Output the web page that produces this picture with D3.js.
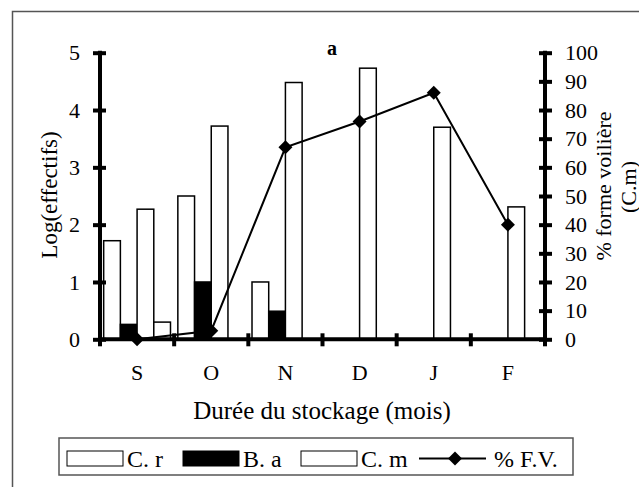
<!DOCTYPE html>
<html>
<head>
<meta charset="utf-8">
<script src="https://cdn.jsdelivr.net/npm/d3@7"></script>
<style>
  body { margin: 0; background: #fff; }
  svg { font-family: "Liberation Serif", "Times New Roman", serif; }
</style>
</head>
<body>
<svg id="chart" width="639" height="487"></svg>
<script>
// data
var months = ["S", "O", "N", "D", "J", "F"];
var cr = [1.72, 2.50, 1.00, 0, 0, 0];        // C. r
var ba = [0.26, 1.00, 0.49, 0, 0, 0];        // B. a
var cm = [2.27, 3.72, 4.48, 4.73, 3.70, 2.31]; // C. m
var extra = [0.30, 0, 0, 0, 0, 0];           // 4th bar (no legend entry)
var fv = [0, 3, 67, 76, 86, 40];             // % F.V.
var leftTicks = [0, 1, 2, 3, 4, 5];
var rightTicks = [0, 10, 20, 30, 40, 50, 60, 70, 80, 90, 100];

var svg = d3.select("#chart");

// frame
svg.append("rect")
    .attr("x", 12.5).attr("y", 11.5)
    .attr("width", 700).attr("height", 600)
    .attr("fill", "none").attr("stroke", "#555").attr("stroke-width", 1.5);

var plotL = 100, plotR = 545, plotT = 52.7, plotB = 339.3;

var x = d3.scaleBand().domain(months).range([plotL, plotR]);
var slots = ["cr", "ba", "cm", "extra"];
var xs = d3.scaleBand().domain(slots).range([0, x.bandwidth()]).paddingOuter(0.22);
var y = d3.scaleLinear().domain([0, 5]).range([plotB, plotT]);
var y2 = d3.scaleLinear().domain([0, 100]).range([plotB, plotT]);

var series = [
  {key: "cr", values: cr, fill: "#fff"},
  {key: "ba", values: ba, fill: "#000"},
  {key: "cm", values: cm, fill: "#fff"},
  {key: "extra", values: extra, fill: "#fff"}
];

var g = svg.append("g");
series.forEach(function(s) {
  g.selectAll(".bar-" + s.key)
    .data(s.values.map(function(v, i) { return {m: months[i], v: v}; }).filter(function(d) { return d.v > 0; }))
    .enter().append("rect")
      .attr("class", "bar-" + s.key)
      .attr("x", function(d) { return x(d.m) + xs(s.key); })
      .attr("y", function(d) { return y(d.v); })
      .attr("width", xs.bandwidth())
      .attr("height", function(d) { return y(0) - y(d.v); })
      .attr("fill", s.fill)
      .attr("stroke", "#000")
      .attr("stroke-width", 1.5);
});

// axes
function styleAxis(sel, x1, x2) {
  sel.select(".domain").remove();
  sel.selectAll(".tick line").attr("x1", x1).attr("x2", x2)
    .attr("stroke", "#000").attr("stroke-width", 4);
  sel.selectAll(".tick text").attr("font-size", 22).attr("fill", "#000")
    .attr("font-family", "Liberation Serif, serif");
}

var yAxis = svg.append("g")
    .attr("transform", "translate(" + plotL + ",0)")
    .call(d3.axisLeft(y).tickValues(leftTicks).tickFormat(d3.format("d")).tickPadding(14));
styleAxis(yAxis, -7, 6);
svg.append("line").attr("x1", plotL).attr("x2", plotL).attr("y1", plotT - 2).attr("y2", plotB)
    .attr("stroke", "#000").attr("stroke-width", 4);

var yAxis2 = svg.append("g")
    .attr("transform", "translate(" + plotR + ",0)")
    .call(d3.axisRight(y2).tickValues(rightTicks).tickFormat(d3.format("d")).tickPadding(14));
styleAxis(yAxis2, -6, 7);
svg.append("line").attr("x1", plotR).attr("x2", plotR).attr("y1", plotT - 2).attr("y2", plotB)
    .attr("stroke", "#000").attr("stroke-width", 4);

// x axis: ticks at band boundaries, labels at centres
svg.append("line").attr("x1", plotL - 2).attr("x2", plotR + 2).attr("y1", plotB).attr("y2", plotB)
    .attr("stroke", "#000").attr("stroke-width", 4);
var edges = months.map(function(m) { return x(m); }).concat([plotR]);
svg.selectAll(".xtick").data(edges).enter().append("line")
    .attr("x1", function(d) { return d; }).attr("x2", function(d) { return d; })
    .attr("y1", plotB - 6).attr("y2", plotB + 7)
    .attr("stroke", "#000").attr("stroke-width", 4);
svg.selectAll(".xlab").data(months).enter().append("text")
    .attr("x", function(d) { return x(d) + x.bandwidth() / 2; })
    .attr("y", 372).attr("dy", "0.35em")
    .attr("text-anchor", "middle").attr("font-size", 22)
    .text(function(d) { return d; });

// line % F.V.
var line = d3.line()
    .x(function(d, i) { return x(months[i]) + x.bandwidth() / 2; })
    .y(function(d) { return y2(d); });
svg.append("path").datum(fv).attr("d", line)
    .attr("fill", "none").attr("stroke", "#000").attr("stroke-width", 2);
svg.selectAll(".mk").data(fv).enter().append("path")
    .attr("transform", function(d, i) { return "translate(" + (x(months[i]) + x.bandwidth() / 2) + "," + y2(d) + ")"; })
    .attr("d", "M0,-7L7,0L0,7L-7,0Z").attr("fill", "#000");

// titles
svg.append("text").attr("x", 332).attr("y", 48).attr("dy", "0.35em")
    .attr("text-anchor", "middle").attr("font-size", 20).attr("font-weight", "bold").text("a");
svg.append("text").attr("transform", "translate(49,195) rotate(-90)").attr("dy", "0.35em")
    .attr("text-anchor", "middle").attr("font-size", 23).text("Log(effectifs)");
svg.append("text").attr("transform", "translate(603,186) rotate(-90)").attr("dy", "0.35em")
    .attr("text-anchor", "middle").attr("font-size", 22).text("% forme voilière");
svg.append("text").attr("transform", "translate(628,187) rotate(-90)").attr("dy", "0.35em")
    .attr("text-anchor", "middle").attr("font-size", 22).text("(C.m)");
svg.append("text").attr("x", 322).attr("y", 410).attr("dy", "0.35em")
    .attr("text-anchor", "middle").attr("font-size", 25).text("Durée du stockage (mois)");

// legend
var lg = svg.append("g");
lg.append("rect").attr("x", 59).attr("y", 438).attr("width", 514).attr("height", 37)
    .attr("fill", "#fff").attr("stroke", "#555").attr("stroke-width", 1.5);
var legendItems = [
  {label: "C. r", fill: "#fff", x: 67},
  {label: "B. a", fill: "#000", x: 183},
  {label: "C. m", fill: "#fff", x: 301}
];
legendItems.forEach(function(d) {
  lg.append("rect").attr("x", d.x).attr("y", 451).attr("width", 56).attr("height", 15)
      .attr("fill", d.fill).attr("stroke", "#000").attr("stroke-width", 1);
  lg.append("text").attr("x", d.x + 60).attr("y", 458.5).attr("dy", "0.35em")
      .attr("font-size", 24).text(d.label);
});
lg.append("line").attr("x1", 419).attr("x2", 486).attr("y1", 458.5).attr("y2", 458.5)
    .attr("stroke", "#000").attr("stroke-width", 2);
lg.append("path").attr("transform", "translate(455,458.5)").attr("d", "M0,-7L7,0L0,7L-7,0Z").attr("fill", "#000");
lg.append("text").attr("x", 494).attr("y", 458.5).attr("dy", "0.35em")
    .attr("font-size", 24).text("% F.V.");
</script>
</body>
</html>
